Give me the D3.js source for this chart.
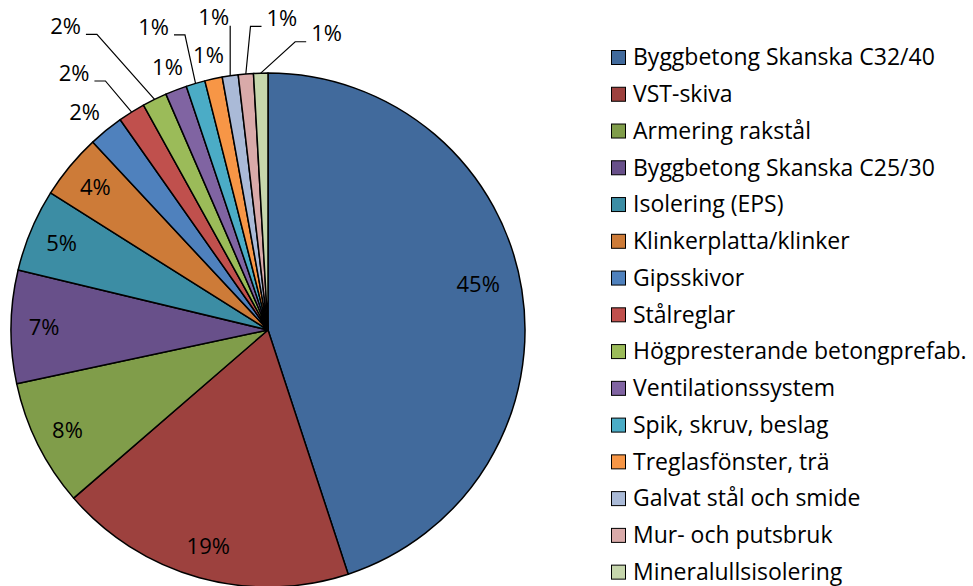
<!DOCTYPE html>
<html>
<head>
<meta charset="utf-8">
<script src="https://cdn.jsdelivr.net/npm/d3@7"></script>
<style>
  body { margin: 0; background: #fff; }
  svg { display: block; }
</style>
</head>
<body>
<svg id="viz"></svg>
<script>
var width = 973;
var height = 586;

// material categories (legend order = slice order, clockwise from 12 o'clock)
var categories = [
    "Byggbetong Skanska C32/40",
    "VST-skiva",
    "Armering rakstål",
    "Byggbetong Skanska C25/30",
    "Isolering (EPS)",
    "Klinkerplatta/klinker",
    "Gipsskivor",
    "Stålreglar",
    "Högpresterande betongprefab.",
    "Ventilationssystem",
    "Spik, skruv, beslag",
    "Treglasfönster, trä",
    "Galvat stål och smide",
    "Mur- och putsbruk",
    "Mineralullsisolering"
];

// share of total, percent
var shares = [44.95, 18.7, 8.0, 7.1, 5.2, 4.1, 2.2, 1.7, 1.55, 1.35, 1.2, 1.1, 1.0, 0.95, 0.9];

var colors = [
    "#416a9c", "#9d413e", "#809d4a", "#68508a", "#3c8da4", "#cd7b38",
    "#4f81bd", "#c0504d", "#9bbb59", "#8064a2", "#4bacc6", "#f79646",
    "#aabad7", "#d9aaa9", "#c6d6ac"
];

// label placement that differs from the default (radius 224 on the mid angle):
// radius, angle nudge in degrees, and whether a leader line is drawn
var placement = {
    0:  { r: 215, nudge: -3.1, lead: false },
    6:  { r: 285, nudge: -1,   lead: false },
    7:  { r: 322, nudge: -5,   lead: true },
    8:  { r: 365, nudge: -7.5, lead: true },
    9:  { r: 281, nudge: 0,    lead: false },
    10: { r: 324, nudge: -4.3, lead: true },
    11: { r: 281, nudge: 0,    lead: false },
    12: { r: 317, nudge: -1.4, lead: true },
    13: { r: 312, nudge: 7.5,  lead: true },
    14: { r: 302, nudge: 12.8, lead: true }
};

var cx = 268, cy = 330, radius = 257;

var svg = d3.select("#viz").attr("width", width).attr("height", height);

var pie = d3.pie().sort(null).value(function (d) { return d; });
var arcs = pie(shares);

var arc = d3.arc().innerRadius(0).outerRadius(radius);

var g = svg.append("g").attr("transform", "translate(" + cx + "," + cy + ")");

g.selectAll("path")
    .data(arcs)
    .enter().append("path")
        .attr("d", arc)
        .attr("fill", function (d, i) { return colors[i]; })
        .attr("stroke", "#000")
        .attr("stroke-width", 1.5)
        .attr("stroke-linejoin", "round");

function polar(r, a) {
    return [r * Math.sin(a), -r * Math.cos(a)];
}

var fmt = function (v) { return Math.round(v) + "%"; };
var labelFont = "'Open Sans', sans-serif";

arcs.forEach(function (d, i) {
    var mid = (d.startAngle + d.endAngle) / 2;
    var o = placement[i] || { r: 224, nudge: 0, lead: false };
    var p = polar(o.r, mid + o.nudge * Math.PI / 180);

    var t = g.append("text")
        .attr("x", p[0])
        .attr("y", p[1])
        .attr("dy", "0.35em")
        .attr("text-anchor", "middle")
        .attr("font-family", labelFont)
        .attr("font-size", 22)
        .attr("fill", "#000")
        .text(fmt(d.value));

    if (o.lead) {
        var bb = t.node().getBBox();
        var anchor = polar(radius, mid);
        var base = p[1] + 8;
        var pts;
        if (anchor[0] >= bb.x - 4 && anchor[0] <= bb.x + bb.width + 4) {
            pts = [[anchor[0], base], anchor];
        } else if (anchor[0] > bb.x + bb.width) {
            var x0 = bb.x + bb.width + 5;
            pts = [[x0, base], [x0 + 11, base], anchor];
        } else {
            var x1 = bb.x - 5;
            pts = [[x1, base], [x1 - 11, base], anchor];
        }
        g.append("path")
            .attr("d", d3.line()(pts))
            .attr("fill", "none")
            .attr("stroke", "#000")
            .attr("stroke-width", 1.2);
    }
});

// legend
var legend = svg.append("g").attr("transform", "translate(611,57)");
var rowH = 36.76;

var item = legend.selectAll("g")
    .data(categories)
    .enter().append("g")
        .attr("transform", function (d, i) { return "translate(0," + (i * rowH) + ")"; });

item.append("rect")
    .attr("x", 0.5)
    .attr("y", -6.5)
    .attr("width", 14)
    .attr("height", 14)
    .attr("fill", function (d, i) { return colors[i]; })
    .attr("stroke", "#000")
    .attr("stroke-width", 1);

item.append("text")
    .attr("x", 22)
    .attr("y", 0)
    .attr("dy", "0.36em")
    .attr("font-family", labelFont)
    .attr("font-size", 23)
    .attr("fill", "#000")
    .text(function (d) { return d; });
</script>
</body>
</html>
